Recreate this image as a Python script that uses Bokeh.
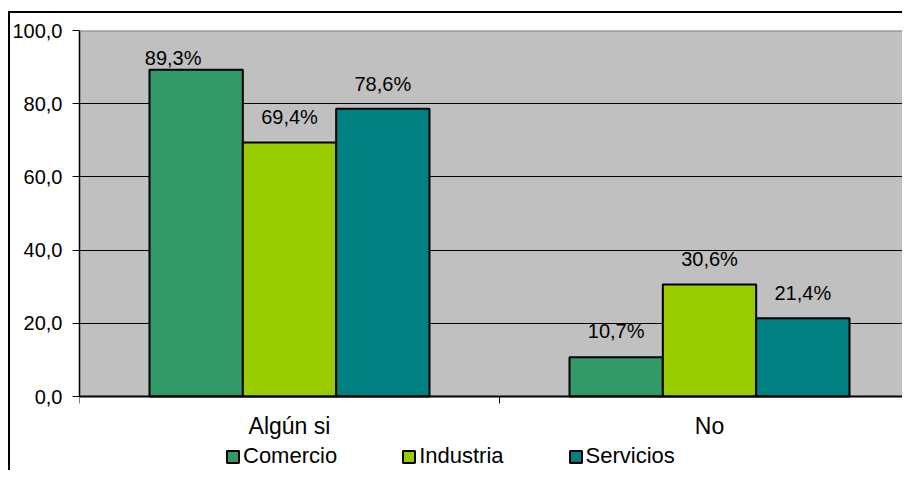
from bokeh.plotting import figure
from bokeh.models import (Range1d, FixedTicker, ColumnDataSource, Span, BoxAnnotation,
                          Legend, LegendItem)
from bokeh.core.properties import value
from bokeh.embed import file_html
from bokeh.resources import INLINE

# ---- data ----
categories = ["Algún si", "No"]
series = ["Comercio", "Industria", "Servicios"]
comercio = [89.3, 10.7]
industria = [69.4, 30.6]
servicios = [78.6, 21.4]
values = [comercio, industria, servicios]
colors = ["#339966", "#99CC00", "#008080"]
yticks = [0, 20, 40, 60, 80, 100]
ytick_labels = ["0,0", "20,0", "40,0", "60,0", "80,0", "100,0"]

# data-label nudges in px (Excel placed the first label manually)
label_dx = [[-23, 0], [0, 0], [0, 0]]
label_dy = [[-12, -26], [-25, -26], [-25, -25]]

FONT = "Liberation Sans"
W, H = 902, 470
FRAME_L, FRAME_T, AXIS_Y = 79, 30, 396   # pixel layout of the plot area
CAT_PX = 420                             # pixel width of one category slot
PX_PER_UNIT = (AXIS_Y - FRAME_T) / 100.0
bar_w = 1 / 4.5
y_min = -(H - AXIS_Y) / PX_PER_UNIT      # room below the axis for labels + legend

cat_x = [i + 0.5 for i in range(len(categories))]
cat_edges = list(range(len(categories) + 1))

p = figure(width=W, height=H, output_backend="svg", toolbar_location=None,
           x_axis_location=None,
           x_range=Range1d(0, (W - FRAME_L) / CAT_PX), y_range=Range1d(y_min, 100),
           min_border_left=FRAME_L, min_border_right=0, min_border_top=FRAME_T,
           min_border_bottom=0)
p.background_fill_color = "white"
p.border_fill_color = None
p.outline_line_color = None
# outer chart border (left and top edges; right/bottom are cropped like the reference)
p.styles = {
    "background": "linear-gradient(#000,#000) 8px 11px / 2px 100% no-repeat, "
                  "linear-gradient(#000,#000) 8px 11px / 100% 2px no-repeat, white"
}

# gray plot area
p.add_layout(BoxAnnotation(bottom=0, top=100, fill_color="#C0C0C0", fill_alpha=1,
                           line_color=None, level="image"))

# grid
p.xgrid.visible = False
p.ygrid.ticker = FixedTicker(ticks=yticks)
p.ygrid.grid_line_color = "black"
p.ygrid.grid_line_width = 1

# top border of plot area
p.add_layout(Span(location=100, dimension="width", line_color="#808080", line_width=2))

# y axis
p.yaxis.ticker = FixedTicker(ticks=yticks)
p.yaxis.bounds = (0, 100)
p.yaxis.major_label_overrides = {t: l for t, l in zip(yticks, ytick_labels)}
p.yaxis.axis_line_color = "black"
p.yaxis.axis_line_width = 1.5
p.yaxis.major_tick_out = 7
p.yaxis.major_tick_in = 0
p.yaxis.minor_tick_line_color = None
p.yaxis.major_label_standoff = 10
p.yaxis.major_label_text_font = FONT
p.yaxis.major_label_text_font_size = "20px"
p.yaxis.major_label_text_color = "black"

items = []
for si, (name, vals, col) in enumerate(zip(series, values, colors)):
    off = (si - 1) * bar_w
    xs = [c + off for c in cat_x]
    src = ColumnDataSource(dict(
        x=xs, top=vals,
        lab=[("%.1f" % v).replace(".", ",") + "%" for v in vals],
        dx=label_dx[si], dy=label_dy[si]))
    r = p.vbar(x="x", top="top", width=bar_w, bottom=0, source=src,
               fill_color=col, line_color="black", line_width=2)
    p.text(x="x", y="top", text="lab", x_offset="dx", y_offset="dy", source=src,
           text_align="center", text_baseline="alphabetic",
           text_font=value(FONT), text_font_size="20px", text_color="black")
    items.append(LegendItem(label=name, renderers=[r]))

# category (x) axis drawn at y = 0
p.add_layout(Span(location=0, dimension="width", line_color="black", line_width=2))
tick_len = 7 / PX_PER_UNIT
p.segment(x0=cat_edges, y0=[0] * len(cat_edges), x1=cat_edges,
          y1=[-tick_len] * len(cat_edges), line_color="black", line_width=1)
p.text(x=cat_x, y=[0] * len(cat_x), text=categories, y_offset=29,
       text_align="center", text_baseline="alphabetic",
       text_font=value(FONT), text_font_size="23px", text_color="black")

legend = Legend(items=items, orientation="horizontal", location=(146, 1),
                glyph_width=15, glyph_height=15, label_standoff=3, spacing=64,
                padding=0, margin=0, border_line_color=None, background_fill_alpha=0,
                label_text_font=FONT, label_text_font_size="22px", label_text_color="black")
p.add_layout(legend)

open("out.html", "w").write(file_html(p, INLINE))
